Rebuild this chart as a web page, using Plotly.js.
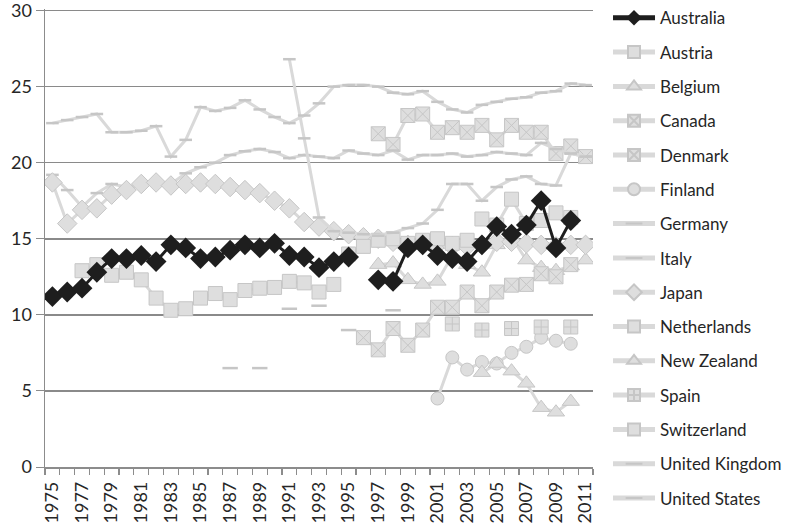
<!DOCTYPE html>
<html>
<head>
<meta charset="utf-8">
<script src="https://cdn.plot.ly/plotly-3.0.1.min.js"></script>
<style>html,body{margin:0;padding:0;background:#fff;}#chart{width:792px;height:529px;}</style>
</head>
<body>
<div id="chart"></div>
<script>
const years = [1975,1976,1977,1978,1979,1980,1981,1982,1983,1984,1985,1986,1987,1988,1989,1990,1991,1992,1993,1994,1995,1996,1997,1998,1999,2000,2001,2002,2003,2004,2005,2006,2007,2008,2009,2010,2011];
const labelYears = [1975,1977,1979,1981,1983,1985,1987,1989,1991,1993,1995,1997,1999,2001,2003,2005,2007,2009,2011];
const yTicks = [0,5,10,15,20,25,30];

const australia = [11.2,11.5,11.75,12.8,13.7,13.7,13.9,13.5,14.6,14.4,13.7,13.8,14.25,14.6,14.4,14.7,13.9,13.8,13.1,13.5,13.8,null,12.3,12.2,14.4,14.6,13.9,13.7,13.5,14.6,15.8,15.3,15.9,17.5,14.4,16.2,null];
const austria = [null,null,12.9,13.3,12.6,12.8,12.3,11.1,10.3,10.4,11.1,11.4,11.0,11.6,11.75,11.8,12.2,12.1,11.5,12.0,null,null,null,null,null,null,null,null,null,null,null,null,null,null,null,null,null];
const belgium = [null,null,null,null,null,null,null,null,null,null,null,null,null,null,null,null,null,null,null,null,null,null,13.3,13.4,12.3,12.0,12.2,13.9,13.3,12.8,14.6,15.1,13.6,13.1,12.9,13.2,13.6];
const canada = [null,null,null,null,null,null,null,null,null,null,null,null,null,null,null,null,null,null,null,null,null,null,21.9,21.2,23.1,23.2,22.0,22.3,22.0,22.45,21.5,22.45,22.0,22.0,20.6,21.1,20.4];
const denmark = [null,null,null,null,null,null,null,null,null,null,null,null,null,null,null,null,null,null,null,null,null,8.5,7.7,9.1,8.0,9.0,10.5,10.5,11.5,10.6,11.5,11.95,12.0,12.7,12.5,13.3,null];
const finland = [null,null,null,null,null,null,null,null,null,null,null,null,null,null,null,null,null,null,null,null,null,null,null,null,null,null,4.5,7.2,6.4,6.9,6.8,7.5,7.9,8.5,8.3,8.1,null];
const germany = [19.2,18.2,17.1,18.0,18.6,18.4,18.6,18.6,18.6,19.3,19.7,20.0,20.5,20.75,20.9,20.7,20.3,20.5,20.4,20.3,20.8,20.6,20.5,20.8,20.2,20.5,20.5,20.6,20.4,20.5,20.7,20.6,20.5,21.3,20.9,20.6,20.4];
const italy = [null,null,null,null,null,null,null,null,null,null,null,null,6.5,null,6.5,null,10.4,null,10.6,null,9.0,null,null,10.3,null,null,null,null,null,null,null,null,null,null,null,null,null];
const japan = [18.7,16.0,16.9,17.0,17.9,18.2,18.6,18.7,18.5,18.6,18.7,18.6,18.4,18.2,18.0,17.5,17.0,16.1,15.8,15.5,15.3,15.1,15.0,14.8,14.6,14.6,14.6,14.5,14.5,14.6,14.8,14.8,14.7,14.6,14.5,14.6,14.6];
const netherlands = [null,null,null,null,null,null,null,null,null,null,null,null,null,null,null,null,null,null,null,null,null,null,null,null,null,null,null,null,null,16.3,15.9,17.6,16.0,16.2,16.7,16.4,null];
const newZealand = [null,null,null,null,null,null,null,null,null,null,null,null,null,null,null,null,null,null,null,null,null,null,null,null,null,null,null,null,null,6.2,6.8,6.3,5.5,3.9,3.6,4.3,null];
const spain = [null,null,null,null,null,null,null,null,null,null,null,null,null,null,null,null,null,null,null,null,null,null,null,null,null,null,null,9.4,null,9.0,null,9.1,null,9.2,null,9.2,null];
const switzerland = [null,null,null,null,null,null,null,null,null,null,null,null,null,null,null,null,null,null,null,null,14.0,14.5,14.9,15.0,14.7,14.9,15.0,14.7,14.9,null,null,null,null,null,null,null,null];
const unitedKingdom = [null,null,null,null,null,null,null,null,null,null,null,null,null,null,null,null,26.8,21.6,16.4,15.5,15.4,15.3,15.2,15.4,15.7,16.0,16.9,18.6,18.6,17.5,18.4,18.9,19.1,18.6,18.5,20.6,20.4];
const unitedStates = [22.6,22.8,23.0,23.2,22.0,22.0,22.1,22.4,20.4,21.5,23.65,23.4,23.6,24.1,23.5,23.0,22.6,23.1,23.9,25.0,25.1,25.1,25.0,24.6,24.5,24.7,24.0,23.5,23.3,23.8,24.0,24.2,24.3,24.6,24.7,25.2,25.1];

const LG = '#d9d9d9', MB = '#c6c6c6';
function grey(name, y, symbol, size, rank) {
  const dash = symbol === 'line-ew';
  return {
    x: years, y: y, name: name, type: 'scatter', mode: 'lines+markers',
    connectgaps: false, legendgroup: name, legendrank: rank,
    line: {color: LG, width: 3},
    marker: dash ? {symbol: 'line-ew', size: size, line: {color: MB, width: 2.5}}
                 : {symbol: symbol, size: size, color: '#dedede', line: {color: MB, width: 1}}
  };
}
const traces = [
  grey('Austria', austria, 'square', 14, 2),
  grey('Belgium', belgium, 'triangle-up', 15, 3),
  grey('Canada', canada, 'square-x', 14, 4),
  grey('Denmark', denmark, 'square-x', 14, 5),
  grey('Finland', finland, 'circle', 13, 6),
  grey('Germany', germany, 'line-ew', 9, 7),
  grey('Italy', italy, 'line-ew', 11, 8),
  grey('Japan', japan, 'diamond', 15, 9),
  grey('Netherlands', netherlands, 'square', 14, 10),
  grey('New Zealand', newZealand, 'triangle-up', 15, 11),
  grey('Spain', spain, 'square-cross', 14, 12),
  grey('Switzerland', switzerland, 'square', 14, 13),
  grey('United Kingdom', unitedKingdom, 'line-ew', 9, 14),
  grey('United States', unitedStates, 'line-ew', 9, 15),
  {x: years, y: australia, name: 'Australia', type: 'scatter', mode: 'lines+markers',
   connectgaps: false, legendgroup: 'Australia', legendrank: 1,
   line: {color: '#1e1e1e', width: 3},
   marker: {symbol: 'diamond', size: 16, color: '#1e1e1e', line: {color: '#1e1e1e', width: 0}}}
];

const layout = {
  width: 792, height: 529,
  margin: {l: 45, r: 199, t: 8.5, b: 62, autoexpand: false},
  paper_bgcolor: '#fff', plot_bgcolor: '#fff',
  font: {family: 'Lato, "Open Sans", sans-serif', color: '#262626'},
  showlegend: true,
  legend: {x: 1.0274, xanchor: 'left', y: 1.0191, yanchor: 'top', tracegroupgap: 9.2,
           font: {size: 17, color: '#262626'}, itemsizing: 'constant', itemwidth: 42,
           maxheight: 1, borderwidth: 0, bgcolor: 'rgba(0,0,0,0)'},
  xaxis: {
    type: 'linear', range: [1974.5, 2011.5], tickmode: 'array', tickvals: labelYears,
    ticktext: labelYears.map(String), tickangle: -90, ticks: '', showgrid: false,
    showline: true, linecolor: '#8c8c8c', linewidth: 1.5, zeroline: false,
    tickfont: {size: 18, color: '#262626'}, ticklabelstandoff: 6, ticklabeloverflow: 'allow',
    minor: {ticks: 'outside', tick0: 1974.5, dtick: 1, ticklen: 6, tickcolor: '#8c8c8c', tickwidth: 1.2, showgrid: false}
  },
  yaxis: {
    range: [0, 30.1], tickmode: 'array', tickvals: yTicks, ticks: 'outside', ticklen: 8,
    tickcolor: '#8c8c8c', showgrid: true, gridcolor: '#8a8a8a', gridwidth: 1.5,
    showline: true, linecolor: '#8c8c8c', linewidth: 1.5, zeroline: false,
    tickfont: {size: 18, color: '#262626'}, ticklabeloverflow: 'allow'
  }
};
Plotly.newPlot('chart', traces, layout, {staticPlot: true});
</script>
</body>
</html>
